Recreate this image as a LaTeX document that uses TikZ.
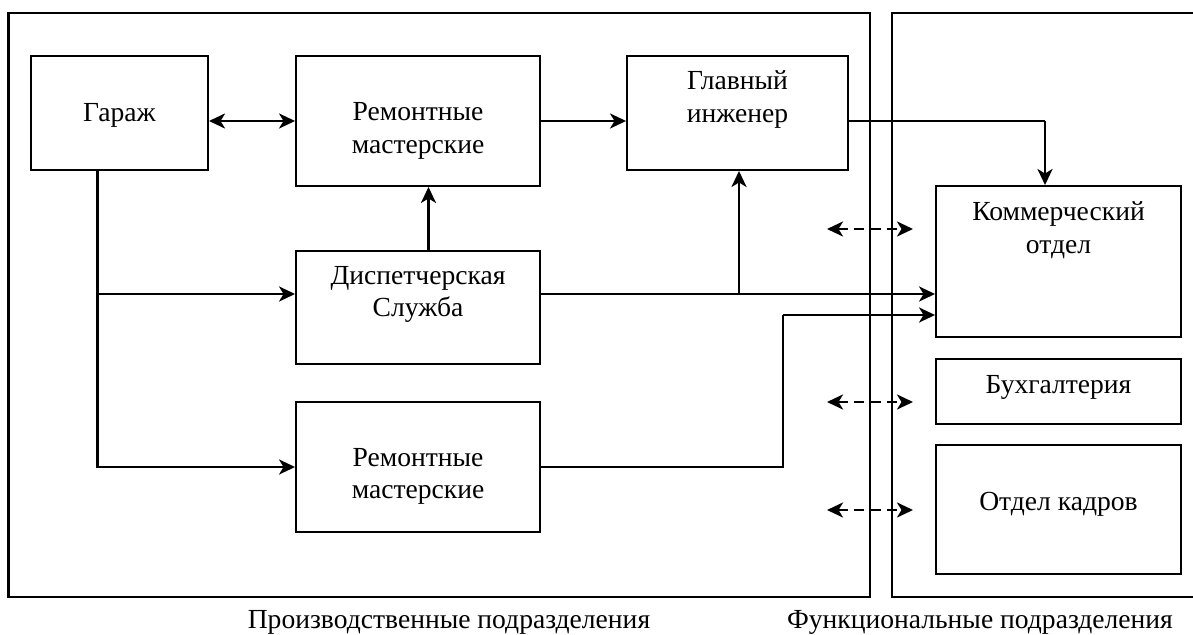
\documentclass[tikz,border=0pt]{standalone}
\usepackage{fontspec}
\setmainfont{Liberation Serif}
\usetikzlibrary{arrows.meta, positioning}

\tikzset{
	unit/.style={draw, line width=1.1pt, inner sep=0pt},
	frame/.style={line width=1.3pt},
	txt/.style={align=center, font=\fontsize{15.7pt}{18.5pt}\selectfont, inner sep=0pt},
	flow/.style={line width=1.5pt},
	thinline/.style={line width=0.7pt},
	dashflow/.style={line width=1.5pt, dash pattern=on 0.2cm off 0.13cm}
}

\begin{document}
\begin{tikzpicture}[x=0.02cm, y=-0.02cm, >={Stealth[length=0.32cm, width=0.3cm, inset=0.09cm]}]
		\useasboundingbox (0,0) rectangle (1193,635);
		%-------------------------------------------------------------------------------
		% frames
		%-------------------------------------------------------------------------------
		\draw[frame] (8.5,13) rectangle (870,597);
		\draw[frame] (1193,13) -- (892,13) -- (892,597) -- (1193,597);
		\node[txt] (prodlbl) at (449,622) {Производственные подразделения};
		\node[txt] (funclbl) at (980,622) {Функциональные подразделения};
		
		% core nodes
		\node[unit, minimum width=3.55cm, minimum height=2.28cm,
			label={[txt, yshift=-0.04cm]center:Гараж}] (garage) at (119.3,113) {};
		\node[unit, minimum width=4.88cm, minimum height=2.6cm,
			label={[txt, yshift=-0.2cm]center:Ремонтные\\мастерские}] (rep1) at (418,121) {};
		\node[unit, minimum width=4.88cm, minimum height=2.26cm,
			label={[txt, yshift=0.26cm]center:Диспетчерская\\Служба}] (disp) at (418,307.5) {};
		\node[unit, minimum width=4.88cm, minimum height=2.6cm,
			label={[txt, yshift=-0.19cm]center:Ремонтные\\мастерские}] (rep2) at (418,467) {};
		\node[unit, minimum width=4.42cm, minimum height=2.28cm,
			label={[txt, yshift=0.27cm]center:Главный\\инженер}] (chief) at (737.5,113) {};
		\node[unit, minimum width=4.9cm, minimum height=3.02cm,
			label={[txt, yshift=0.63cm]center:Коммерческий\\отдел}] (comm) at (1058.5,261.5) {};
		\node[unit, minimum width=4.9cm, minimum height=1.3cm,
			label={[txt, yshift=0.08cm]center:Бухгалтерия}] (buh) at (1058.5,391.5) {};
		\node[unit, minimum width=4.9cm, minimum height=2.58cm,
			label={[txt, yshift=0.1cm]center:Отдел кадров}] (kadr) at (1058.5,509.5) {};
		
		% garage lines
		\coordinate (gdown) at ([xshift=-0.43cm]garage.south);
		\coordinate (gbranch) at (97.6,294);
		\draw[flow, <->] (garage.east |- rep1.west) -- (rep1.west);
		\draw[flow, ->] (gdown) |- (rep2.west);
		\draw[flow, ->] (gbranch) -- (disp.west |- gbranch);
		% forward
		\draw[flow, ->] (rep1.east) -- (chief.west |- rep1.east);
		\draw[flow, ->] ([xshift=0.21cm]disp.north) -- ([xshift=0.21cm]rep1.south);
		\coordinate (jn) at (739,294);
		\draw[thinline] (disp.east |- jn) -- (jn);
		\draw[flow, ->] (jn) -- (jn -| comm.west);
		\draw[flow, ->] (jn) -- (jn |- chief.south);
		\coordinate (cn) at (1045,121);
		\draw[thinline] (chief.east |- cn) -- (cn);
		\draw[flow, ->] (cn) -- (cn |- comm.north);
		\coordinate (rn) at (783,315);
		\draw[thinline] (rep2.east) -| (rn);
		\draw[flow, ->] (rn) -- (rn -| comm.west);
		
		% dashed links
		\foreach \y/\n in {229/a, 402/b, 510/c} {
			\coordinate (dl\n) at (827,\y);
			\coordinate (dr\n) at (913,\y);
			\draw[dashflow, <->] (dl\n) -- (dr\n);
		}
\end{tikzpicture}
\end{document}
